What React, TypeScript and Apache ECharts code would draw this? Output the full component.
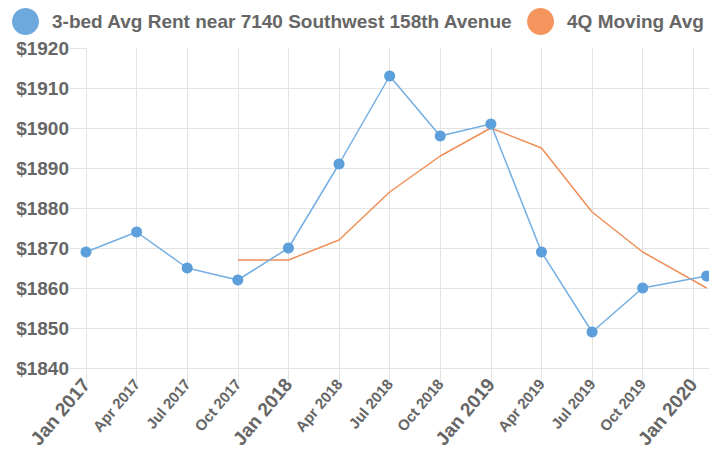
import React, { useEffect, useRef } from "react";
import * as echarts from "echarts";

const dates = [
  "2017-01-01", "2017-04-01", "2017-07-01", "2017-10-01",
  "2018-01-01", "2018-04-01", "2018-07-01", "2018-10-01",
  "2019-01-01", "2019-04-01", "2019-07-01", "2019-10-01",
  "2020-01-25",
];
const rent = [1869, 1874, 1865, 1862, 1870, 1891, 1913, 1898, 1901, 1869, 1849, 1860, 1863];
const movingAvg: (number | null)[] = [null, null, null, 1867, 1867, 1872, 1884, 1893, 1900, 1895, 1879, 1869, 1860];
const tickLabels = [
  "Jan 2017", "Apr 2017", "Jul 2017", "Oct 2017",
  "Jan 2018", "Apr 2018", "Jul 2018", "Oct 2018",
  "Jan 2019", "Apr 2019", "Jul 2019", "Oct 2019",
  "Jan 2020",
];
const seriesNames = ["3-bed Avg Rent near 7140 Southwest 158th Avenue", "4Q Moving Avg"];

// convert a date to a fractional quarter position counted from Jan 2017
function quarterPos(d: string): number {
  const [y, m, day] = d.split("-").map(Number);
  const q = Math.floor((m - 1) / 3);
  const qStart = Date.UTC(y, q * 3, 1);
  const qEnd = Date.UTC(y, q * 3 + 3, 1);
  const t = Date.UTC(y, m - 1, day);
  return (y - 2017) * 4 + q + (t - qStart) / (qEnd - qStart);
}

const GRID = "#e3e3e3";
const TXT = "#666666";
const FONT = "Arial, Liberation Sans, sans-serif";

export default function App() {
  const ref = useRef<HTMLDivElement>(null);
  useEffect(() => {
    if (!ref.current) return;
    const chart = echarts.init(ref.current, undefined, { renderer: "svg" });
    chart.setOption({
      animation: false,
      textStyle: { fontFamily: FONT },
      legend: {
        left: 7,
        top: 3,
        icon: "circle",
        itemWidth: 27,
        itemHeight: 27,
        itemGap: 14,
        textStyle: { fontSize: 19, fontWeight: "bold", color: TXT, fontFamily: FONT, padding: [0, 0, 0, 8] },
        data: [
          { name: seriesNames[0], itemStyle: { color: "#6ea9de" } },
          { name: seriesNames[1], itemStyle: { color: "#f3955d" } },
        ],
      },
      grid: { left: 86, right: 18, top: 48, bottom: 83, containLabel: false },
      xAxis: {
        type: "value",
        min: 0,
        max: 12.37,
        interval: 1,
        axisLine: { show: true, lineStyle: { color: GRID, width: 1 } },
        axisTick: { show: true, length: 20, lineStyle: { color: GRID } },
        splitLine: { show: true, lineStyle: { color: GRID } },
        axisLabel: {
          rotate: 50,
          margin: 13,
          color: TXT,
          showMaxLabel: false,
          formatter: (v: number) => {
            if (!Number.isInteger(v) || v < 0 || v >= tickLabels.length) return "";
            return v % 4 === 0 ? `{big|${tickLabels[v]}}` : `{small|${tickLabels[v]}}`;
          },
          rich: {
            big: { fontSize: 19, fontWeight: "bold", color: TXT, fontFamily: FONT },
            small: { fontSize: 15, fontWeight: "bold", color: TXT, fontFamily: FONT },
          },
        },
      },
      yAxis: {
        type: "value",
        min: 1840,
        max: 1920,
        interval: 10,
        axisLine: { show: true, lineStyle: { color: GRID } },
        axisTick: { show: true, length: 16, lineStyle: { color: GRID } },
        splitLine: { show: true, showMaxLine: false, lineStyle: { color: GRID } },
        axisLabel: {
          margin: 17,
          color: TXT,
          fontSize: 19,
          fontWeight: "bold",
          fontFamily: FONT,
          formatter: (v: number) => "$" + v,
        },
      },
      series: [
        {
          name: seriesNames[0],
          type: "line",
          data: dates.map((d, i) => [quarterPos(d), rent[i]]),
          symbol: "circle",
          symbolSize: 11,
          showAllSymbol: true,
          clip: false,
          lineStyle: { color: "#74aee2", width: 1.5 },
          itemStyle: { color: "#5c9fda" },
          z: 3,
        },
        {
          name: seriesNames[1],
          type: "line",
          data: dates
            .map((d, i) => [quarterPos(d), movingAvg[i]])
            .filter((p) => p[1] !== null),
          showSymbol: false,
          symbol: "none",
          lineStyle: { color: "#f08f57", width: 1.5 },
          itemStyle: { color: "#f3955d" },
          z: 2,
        },
      ],
    });
    return () => chart.dispose();
  }, []);
  return (
    <div style={{ position: "fixed", left: 0, top: 0, width: 709, height: 451, overflow: "hidden", background: "#fff" }}>
      <div ref={ref} style={{ width: 730, height: 451 }} />
    </div>
  );
}
